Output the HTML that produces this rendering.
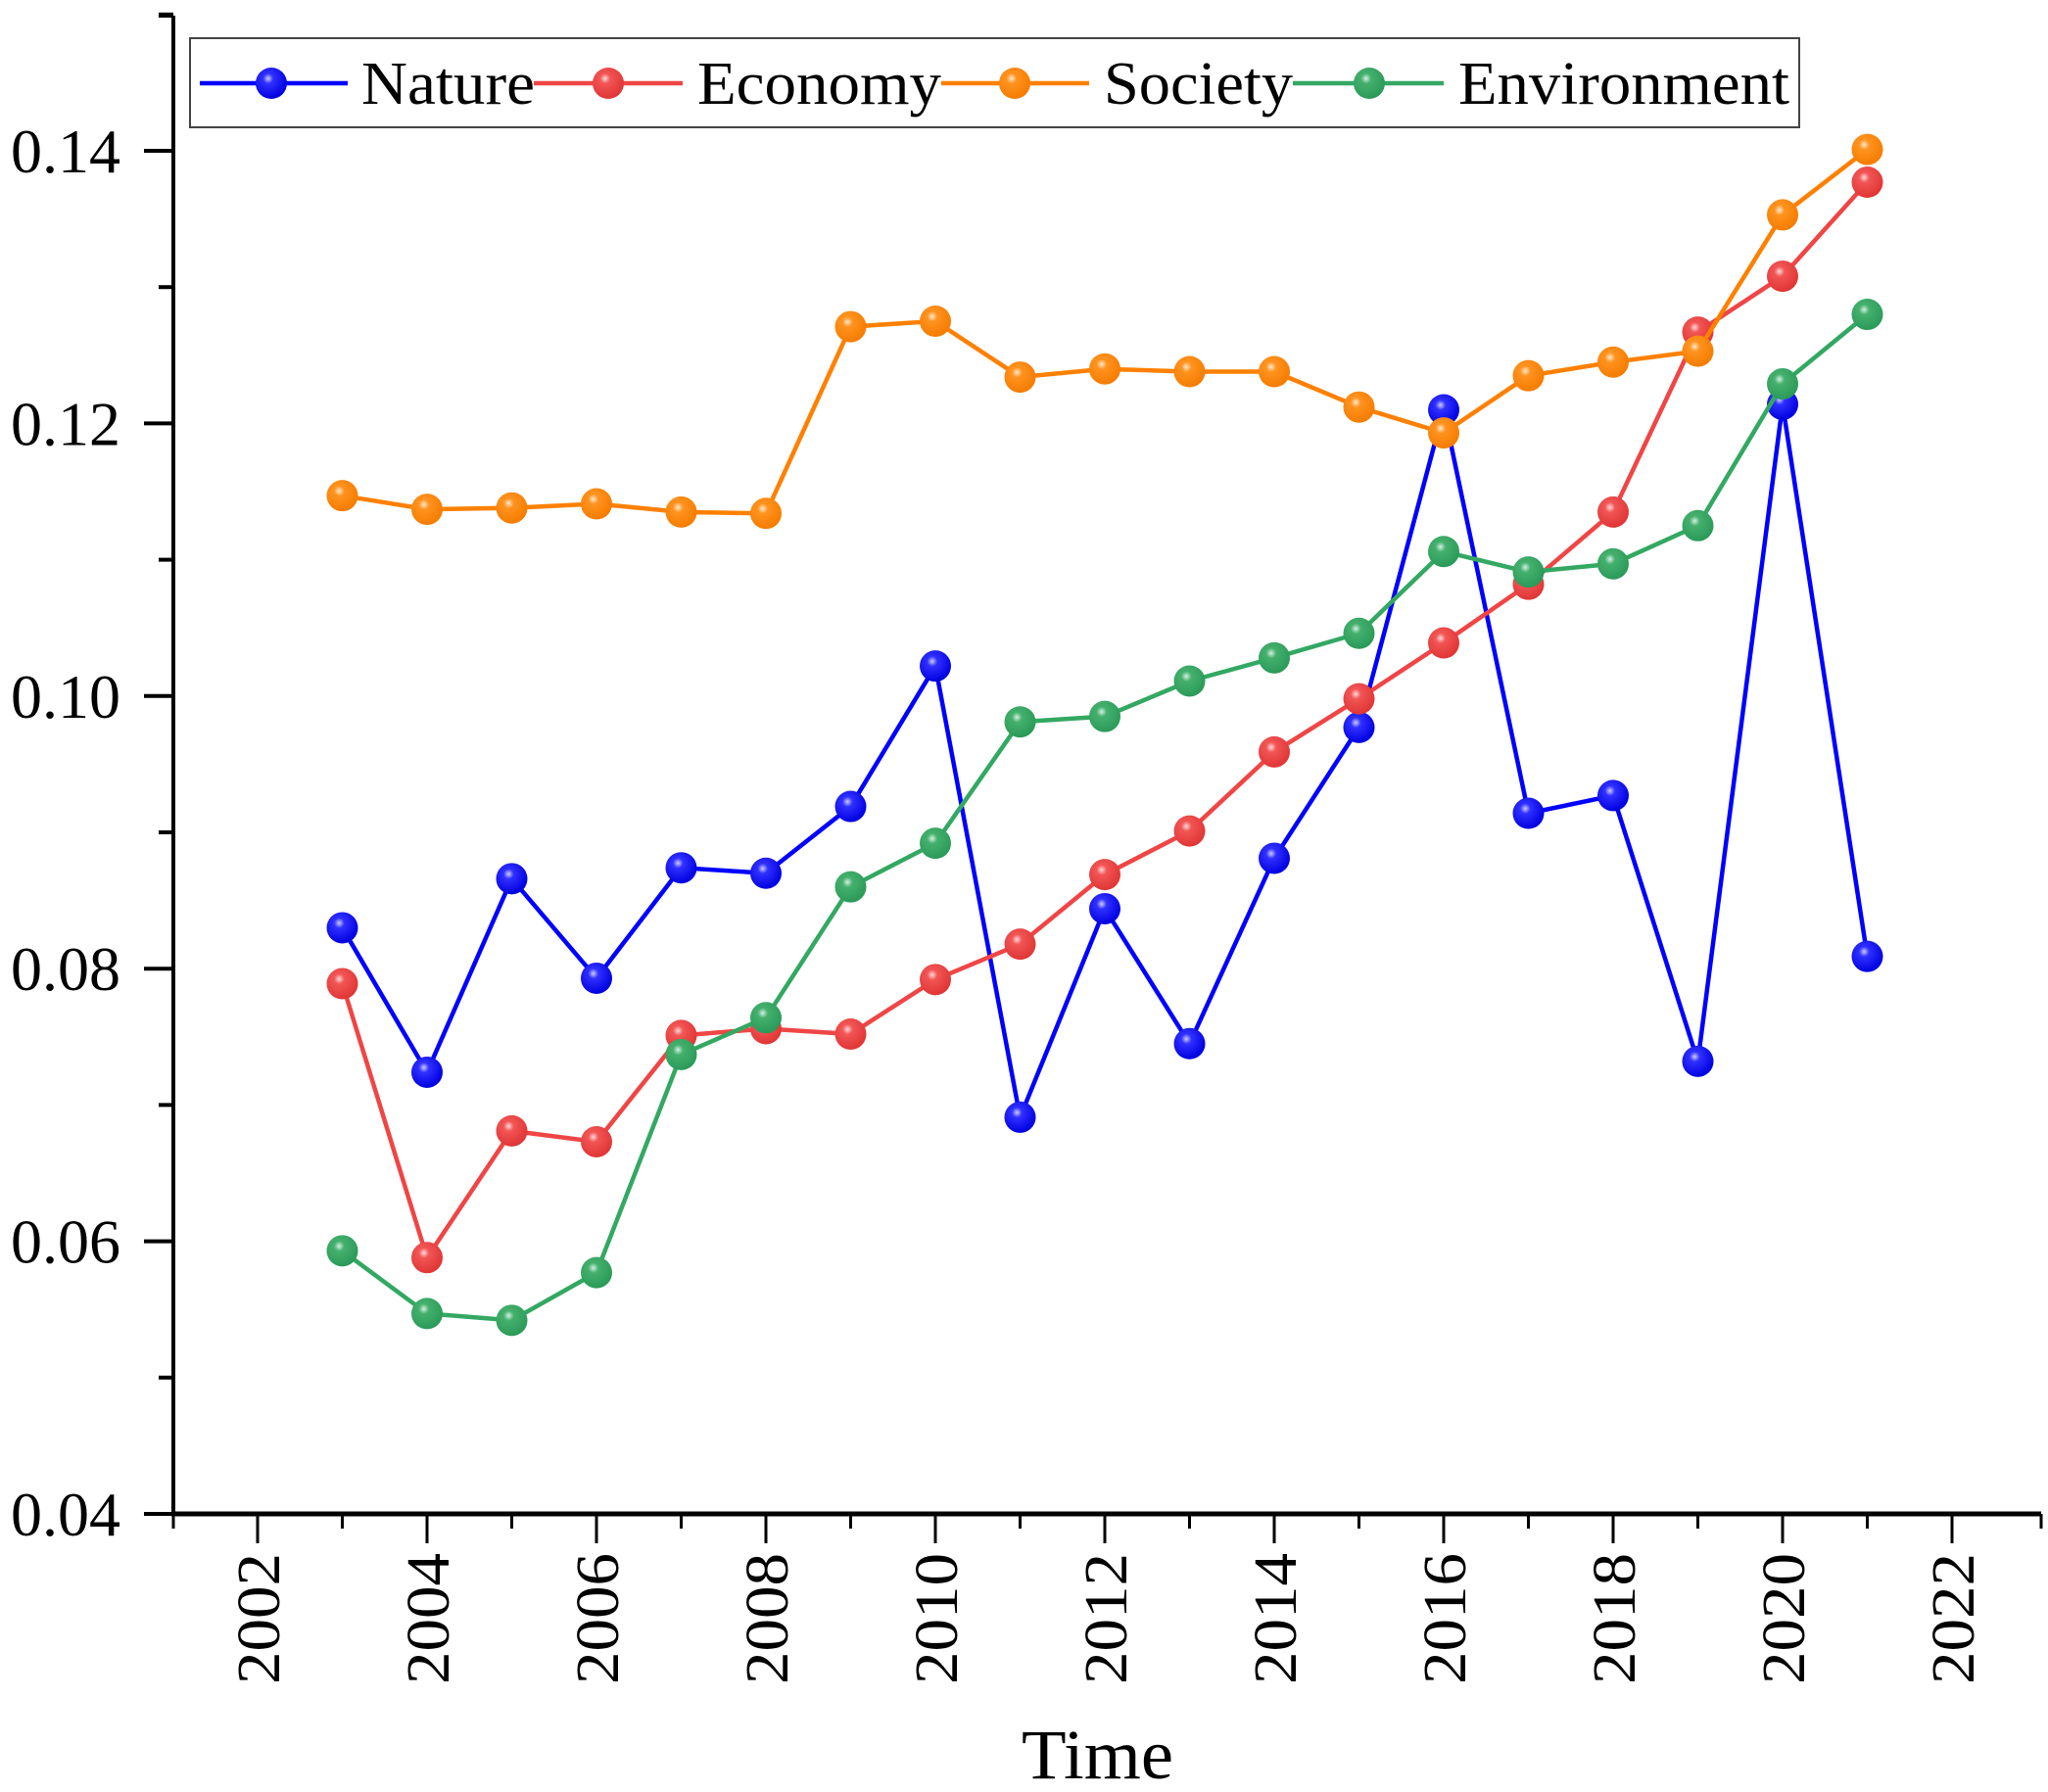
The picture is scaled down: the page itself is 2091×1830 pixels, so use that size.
<!DOCTYPE html>
<html><head><meta charset="utf-8"><style>html,body{margin:0;padding:0;background:#fff}svg{display:block}text{font-family:"Liberation Serif",serif;fill:#000}</style></head>
<body>
<svg id="chart" width="2091" height="1830" viewBox="0 0 2091 1830" xmlns="http://www.w3.org/2000/svg">
<defs>
<radialGradient id="gb" cx="0.4" cy="0.35" r="0.65"><stop offset="0" stop-color="#ccccff"/><stop offset="0.25" stop-color="#3030ff"/><stop offset="1" stop-color="#0000e0"/></radialGradient>
<radialGradient id="gr" cx="0.4" cy="0.35" r="0.65"><stop offset="0" stop-color="#ffd8d8"/><stop offset="0.25" stop-color="#f25555"/><stop offset="1" stop-color="#e03535"/></radialGradient>
<radialGradient id="go" cx="0.4" cy="0.35" r="0.65"><stop offset="0" stop-color="#ffe8cc"/><stop offset="0.25" stop-color="#ff9320"/><stop offset="1" stop-color="#f57c00"/></radialGradient>
<radialGradient id="gg" cx="0.4" cy="0.35" r="0.65"><stop offset="0" stop-color="#d4f0df"/><stop offset="0.25" stop-color="#45b06e"/><stop offset="1" stop-color="#2a9a58"/></radialGradient>
</defs>
<g id="axes"></g>
<g id="series"></g>
<g id="legend"></g>
</svg>
<script>
const years = [2003,2004,2005,2006,2007,2008,2009,2010,2011,2012,2013,2014,2015,2016,2017,2018,2019,2020,2021];
const nature = [0.0830,0.0724,0.0866,0.0793,0.0874,0.0870,0.0919,0.1022,0.0691,0.0844,0.0745,0.0881,0.0977,0.1210,0.0914,0.0927,0.0732,0.1214,0.0809];
const economy = [0.0789,0.0588,0.0681,0.0673,0.0751,0.0756,0.0752,0.0792,0.0818,0.0869,0.0901,0.0959,0.0998,0.1039,0.1082,0.1135,0.1267,0.1308,0.1377];
const society = [0.1147,0.1137,0.1138,0.1141,0.1135,0.1134,0.1271,0.1275,0.1234,0.1240,0.1238,0.1238,0.1212,0.1193,0.1235,0.1245,0.1253,0.1353,0.1401];
const environment = [0.0593,0.0547,0.0542,0.0577,0.0737,0.0764,0.0860,0.0892,0.0981,0.0985,0.1011,0.1028,0.1046,0.1106,0.1091,0.1097,0.1125,0.1229,0.1280];
const yTicks = ["0.04","0.06","0.08","0.10","0.12","0.14"];
const xTicks = ["2002","2004","2006","2008","2010","2012","2014","2016","2018","2020","2022"];
const seriesNames = ["Nature","Economy","Society","Environment"];

const NS="http://www.w3.org/2000/svg";
const X0=177, Y0=1546;
function xs(v){return 263+(v-2002)*(1993-263)/20;}
function ys(v){return 1546-(v-0.04)*(1546-154)/0.10;}
function mk(tag,attrs,parent){const e=document.createElementNS(NS,tag);for(const k in attrs)e.setAttribute(k,attrs[k]);parent.appendChild(e);return e;}
const axes=document.getElementById('axes');
const sg=document.getElementById('series');
const lg=document.getElementById('legend');

let a=mk('line',{x1:X0,y1:16,x2:X0,y2:Y0+2,stroke:'#000','stroke-width':4},axes);


a=mk('line',{x1:X0-2,y1:Y0,x2:2084,y2:Y0,stroke:'#000','stroke-width':5},axes);


mk('line',{x1:X0-15,y1:16,x2:X0,y2:16,stroke:'#000','stroke-width':4},axes);
for(let v=0.04;v<=0.1501;v+=0.01){
  const major=Math.round(v*100)%2===0;
  mk('line',{x1:X0-(major?30:15),y1:ys(v),x2:X0,y2:ys(v),stroke:'#000','stroke-width':4},axes);
}
yTicks.forEach(t=>{
  const e=mk('text',{x:123,y:ys(parseFloat(t))+22,'text-anchor':'end','font-size':64,textLength:112,lengthAdjust:'spacingAndGlyphs'},axes);
  e.textContent=t;
  
  
});
for(let y=2002;y<=2022;y++){
  const major=y%2===0;
  mk('line',{x1:xs(y),y1:Y0,x2:xs(y),y2:Y0+(major?30:15),stroke:'#000','stroke-width':3},axes);
}
mk('line',{x1:X0,y1:Y0,x2:X0,y2:Y0+15,stroke:'#000','stroke-width':3},axes);
mk('line',{x1:2084,y1:Y0,x2:2084,y2:Y0+15,stroke:'#000','stroke-width':3},axes);
xTicks.forEach(t=>{
  const x=xs(parseInt(t))+22;
  const e=mk('text',{x:x,y:1586,transform:`rotate(-90 ${x} 1586)`,'text-anchor':'end','font-size':62,textLength:134,lengthAdjust:'spacingAndGlyphs'},axes);
  e.textContent=t;
  
  
});
let t=mk('text',{x:1043,y:1816,'font-size':72,textLength:155,lengthAdjust:'spacingAndGlyphs'},axes);
t.textContent='Time';



const cols=['#0000ff','#f04545','#ff8000','#33a862'];
const grads=['url(#gb)','url(#gr)','url(#go)','url(#gg)'];
const data=[nature,economy,society,environment];
data.forEach((vals,i)=>{
  const pts=vals.map((v,j)=>xs(years[j])+','+ys(v)).join(' ');
  const pl=mk('polyline',{points:pts,fill:'none',stroke:cols[i],'stroke-width':4.5,'stroke-linejoin':'round'},sg);
  
  
  vals.forEach((v,j)=>{
    const c=mk('circle',{cx:xs(years[j]),cy:ys(v),r:16,fill:grads[i]},sg);
    
    
  });
});

const box=mk('rect',{x:194,y:39,width:1643,height:91,fill:'#fff',stroke:'#444','stroke-width':2},lg);


const lx=[[204,355,277,369,177],[545,697,621,712,249],[961,1112,1036,1127,193],[1320,1474,1398,1489,338]];
lx.forEach((p,i)=>{
  const g=mk('g',{},lg);
  
  
  mk('line',{x1:p[0],y1:85,x2:p[1],y2:85,stroke:cols[i],'stroke-width':4.5},g);
  mk('circle',{cx:p[2],cy:85,r:16,fill:grads[i]},g);
  const tx=mk('text',{x:p[3],y:106,'font-size':62,textLength:p[4],lengthAdjust:'spacingAndGlyphs'},g);
  tx.textContent=seriesNames[i];
});
</script>
</body></html>
